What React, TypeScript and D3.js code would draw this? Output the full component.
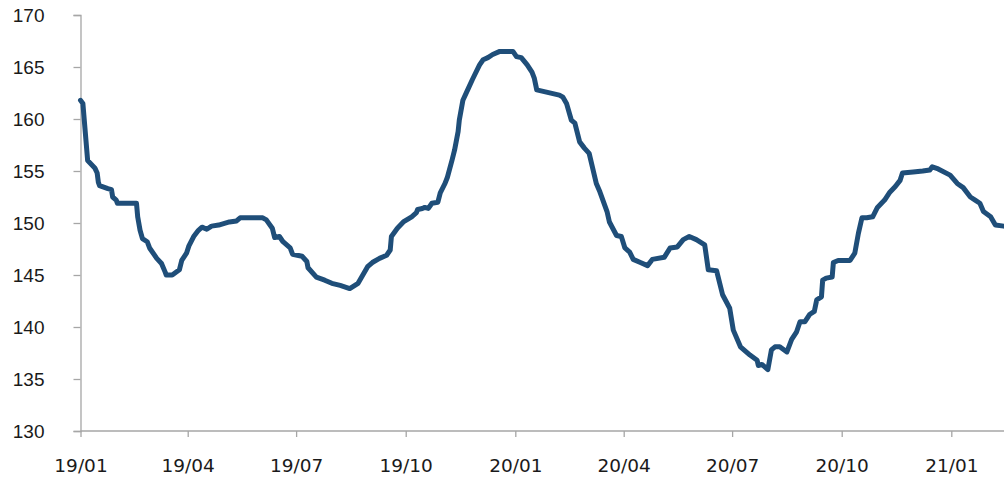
import React, { useRef, useEffect } from "react";
import * as d3 from "d3";

interface IPoint {
  date: Date;
  value: number;
}

// index series
const dates: string[] = [
  "2019-01-01", "2019-01-03", "2019-01-07", "2019-01-13", "2019-01-15", "2019-01-16",
  "2019-01-17", "2019-01-24", "2019-01-27", "2019-01-28", "2019-01-31", "2019-02-01",
  "2019-02-16", "2019-02-17", "2019-02-18", "2019-02-20", "2019-02-22", "2019-02-26",
  "2019-02-28", "2019-03-06", "2019-03-10", "2019-03-13", "2019-03-14", "2019-03-19",
  "2019-03-25", "2019-03-27", "2019-03-31", "2019-04-02", "2019-04-06", "2019-04-10",
  "2019-04-13", "2019-04-17", "2019-04-21", "2019-04-27", "2019-05-06", "2019-05-12",
  "2019-05-15", "2019-06-03", "2019-06-06", "2019-06-11", "2019-06-13", "2019-06-17",
  "2019-06-20", "2019-06-26", "2019-06-28", "2019-07-06", "2019-07-10", "2019-07-11",
  "2019-07-18", "2019-07-25", "2019-07-31", "2019-08-07", "2019-08-15", "2019-08-22",
  "2019-08-26", "2019-08-30", "2019-09-03", "2019-09-09", "2019-09-15", "2019-09-18",
  "2019-09-19", "2019-09-24", "2019-09-29", "2019-10-06", "2019-10-10", "2019-10-11",
  "2019-10-15", "2019-10-17", "2019-10-20", "2019-10-23", "2019-10-28", "2019-10-30",
  "2019-11-03", "2019-11-05", "2019-11-09", "2019-11-11", "2019-11-14", "2019-11-15",
  "2019-11-18", "2019-11-22", "2019-11-26", "2019-12-02", "2019-12-05", "2019-12-09",
  "2019-12-13", "2019-12-19", "2019-12-30", "2020-01-02", "2020-01-06", "2020-01-11",
  "2020-01-15", "2020-01-17", "2020-01-19", "2020-02-07", "2020-02-10", "2020-02-13",
  "2020-02-17", "2020-02-20", "2020-02-24", "2020-02-28", "2020-03-03", "2020-03-09",
  "2020-03-12", "2020-03-18", "2020-03-20", "2020-03-26", "2020-03-30", "2020-04-02",
  "2020-04-06", "2020-04-09", "2020-04-15", "2020-04-21", "2020-04-25", "2020-05-05",
  "2020-05-10", "2020-05-16", "2020-05-21", "2020-05-26", "2020-06-01", "2020-06-08",
  "2020-06-11", "2020-06-18", "2020-06-23", "2020-06-29", "2020-07-02", "2020-07-08",
  "2020-07-16", "2020-07-22", "2020-07-23", "2020-07-26", "2020-07-31", "2020-08-03",
  "2020-08-06", "2020-08-10", "2020-08-16", "2020-08-20", "2020-08-24", "2020-08-27",
  "2020-08-31", "2020-09-04", "2020-09-08", "2020-09-10", "2020-09-14", "2020-09-15",
  "2020-09-18", "2020-09-23", "2020-09-24", "2020-09-28", "2020-10-08", "2020-10-12",
  "2020-10-15", "2020-10-18", "2020-10-22", "2020-10-27", "2020-10-31", "2020-11-06",
  "2020-11-10", "2020-11-15", "2020-11-19", "2020-11-21", "2020-11-30", "2020-12-08",
  "2020-12-14", "2020-12-16", "2020-12-21", "2020-12-31", "2021-01-06", "2021-01-11",
  "2021-01-17", "2021-01-21", "2021-01-25", "2021-01-28", "2021-02-03", "2021-02-07",
  "2021-02-14",
];

const values: number[] = [
  161.8, 161.5, 156.0, 155.3, 154.8, 153.9,
  153.6, 153.3, 153.2, 152.5, 152.2, 151.9,
  151.9, 151.9, 150.6, 149.3, 148.5, 148.2,
  147.6, 146.6, 146.1, 145.3, 145.0, 145.0,
  145.5, 146.4, 147.1, 147.8, 148.7, 149.3,
  149.6, 149.4, 149.7, 149.8, 150.1, 150.2,
  150.5, 150.5, 150.3, 149.5, 148.6, 148.7,
  148.2, 147.6, 147.0, 146.8, 146.3, 145.7,
  144.8, 144.5, 144.2, 144.0, 143.7, 144.2,
  145.0, 145.8, 146.2, 146.6, 146.9, 147.4,
  148.7, 149.5, 150.1, 150.6, 151.0, 151.3,
  151.4, 151.5, 151.4, 151.9, 152.0, 152.9,
  153.8, 154.4, 156.1, 157.0, 158.8, 159.9,
  161.8, 162.8, 163.8, 165.2, 165.7, 165.9,
  166.2, 166.5, 166.5, 166.0, 165.9, 165.2,
  164.5, 163.9, 162.8, 162.3, 162.1, 161.5,
  159.9, 159.6, 157.8, 157.2, 156.7, 153.8,
  153.0, 151.1, 150.1, 148.8, 148.7, 147.6,
  147.2, 146.5, 146.2, 145.9, 146.5, 146.7,
  147.6, 147.7, 148.4, 148.7, 148.4, 147.9,
  145.5, 145.4, 143.1, 141.8, 139.7, 138.1,
  137.3, 136.8, 136.3, 136.4, 135.9, 137.8,
  138.1, 138.1, 137.6, 138.8, 139.5, 140.5,
  140.5, 141.2, 141.5, 142.6, 142.9, 144.5,
  144.7, 144.8, 146.2, 146.4, 146.4, 147.1,
  149.0, 150.5, 150.5, 150.6, 151.5, 152.2,
  152.9, 153.5, 154.1, 154.8, 154.9, 155.0,
  155.1, 155.4, 155.2, 154.6, 153.8, 153.4,
  152.5, 152.2, 151.9, 151.1, 150.6, 149.8,
  149.7,
];

const xTicks: string[] = [
  "2019-01-01", "2019-04-01", "2019-07-01", "2019-10-01", "2020-01-01",
  "2020-04-01", "2020-07-01", "2020-10-01", "2021-01-01",
];
const yTicks: number[] = [130, 135, 140, 145, 150, 155, 160, 165, 170];

const parse = d3.timeParse("%Y-%m-%d");
const fmt = d3.timeFormat("%y/%m");

const App: React.FC = () => {
  const ref = useRef<SVGSVGElement>(null);
  const width = 1004;
  const height = 486;
  const margin = { top: 15, right: 0, bottom: 55, left: 80.5 };
  const innerHeight = height - margin.top - margin.bottom;

  useEffect(() => {
    const svg = d3.select(ref.current);
    svg.selectAll("*").remove();

    const data: IPoint[] = dates.map((d, i) => ({
      date: parse(d) as Date,
      value: values[i],
    }));

    const xScale = d3
      .scaleTime()
      .domain([parse("2019-01-01") as Date, parse("2021-01-01") as Date])
      .range([margin.left, 951.3]);
    const yScale = d3
      .scaleLinear()
      .domain([130, 170])
      .range([margin.top + innerHeight, margin.top]);

    const axisColor = "#a6a6a6";

    // y axis
    const yAxis = d3
      .axisLeft(yScale)
      .tickValues(yTicks)
      .tickSize(7)
      .tickPadding(29)
      .tickFormat((d) => String(d));
    const yg = svg
      .append("g")
      .attr("transform", `translate(${margin.left}, 0)`)
      .call(yAxis);
    yg.select(".domain").attr("stroke", axisColor).attr("stroke-width", 1.3);
    yg.selectAll(".tick line").attr("stroke", axisColor).attr("stroke-width", 1.3);
    yg.selectAll(".tick text")
      .attr("fill", "#1a1a1a")
      .attr("font-family", "'Liberation Sans', Arial, sans-serif")
      .attr("font-size", 19);

    // x axis
    const xAxis = d3
      .axisBottom(xScale)
      .tickValues(xTicks.map((t) => parse(t) as Date))
      .tickSize(6)
      .tickSizeOuter(0)
      .tickPadding(22)
      .tickFormat((d) => fmt(d as Date));
    const xg = svg
      .append("g")
      .attr("transform", `translate(0, ${margin.top + innerHeight})`)
      .call(xAxis);
    xg.select(".domain")
      .attr("d", `M${margin.left},0H${width}`)
      .attr("stroke", axisColor)
      .attr("stroke-width", 1.3);
    xg.selectAll(".tick line").attr("stroke", axisColor).attr("stroke-width", 1.3);
    xg.selectAll(".tick text")
      .attr("fill", "#1a1a1a")
      .attr("font-family", "'DejaVu Sans', Verdana, sans-serif")
      .attr("font-size", 18.5);

    const line = d3
      .line<IPoint>()
      .x((d) => xScale(d.date))
      .y((d) => yScale(d.value));

    svg
      .append("path")
      .datum(data)
      .attr("fill", "none")
      .attr("stroke", "#1f4e79")
      .attr("stroke-width", 5)
      .attr("stroke-linejoin", "round")
      .attr("stroke-linecap", "round")
      .attr("d", line(data) || "");
  }, []);

  return (
    <svg
      ref={ref}
      width={width}
      height={height}
      style={{ position: "absolute", left: 0, top: 0, background: "#fff" }}
    ></svg>
  );
};

export default App;
